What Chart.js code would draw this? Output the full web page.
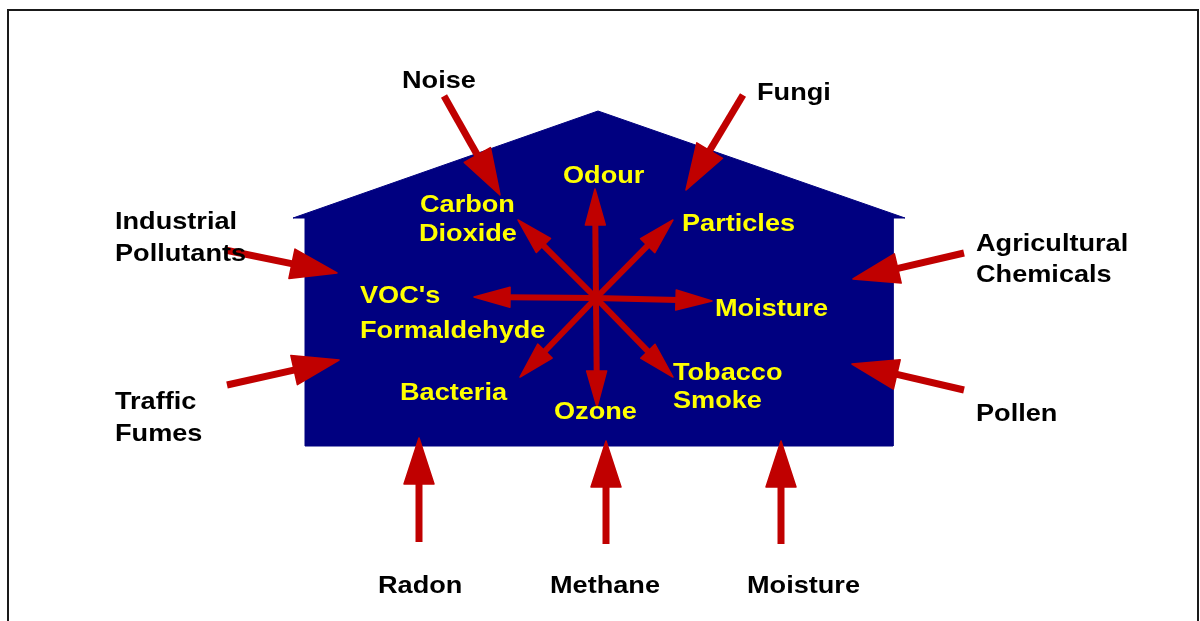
<!DOCTYPE html>
<html lang="en">
<head>
<meta charset="UTF-8">
<title>Indoor Air Pollution</title>
<style>
    body { margin: 0; background: #ffffff; }
    #wrap { width: 1200px; height: 621px; }
</style>
</head>
<body>
<div id="wrap"><canvas id="chart" width="1200" height="621"></canvas></div>
<script src="https://cdn.jsdelivr.net/npm/chart.js"></script>
<script>
// chart units are the pixels of the original picture (y grows downwards)

// house outline
const houseX = [293, 598, 905, 893, 893, 305, 305, 293];
const houseY = [218, 111, 218, 218, 446, 446, 218, 218];

// sources outside the house, one entry per text line
const outsideText = ['Noise', 'Fungi', 'Industrial', 'Pollutants', 'Traffic', 'Fumes',
    'Agricultural', 'Chemicals', 'Pollen', 'Radon', 'Methane', 'Moisture'];
const outsideTextX = [402, 757, 115, 115, 115, 115, 976, 976, 976, 378, 550, 747];
const outsideTextY = [79, 91, 220, 252, 400, 432, 242, 273, 412, 584, 584, 584];

// arrows from the sources into the house
const inFromX = [444, 743, 225, 227, 964, 964, 419, 606, 781];
const inFromY = [96, 95, 250, 385, 253, 390, 542, 544, 544];
const inToX = [500, 686, 337, 339, 853, 852, 419, 606, 781];
const inToY = [195, 190, 273, 360, 279, 364, 438, 441, 441];

// pollutants inside the house, one entry per text line
const insideText = ['Odour', 'Carbon', 'Dioxide', 'Particles', "VOC's", 'Formaldehyde',
    'Moisture', 'Tobacco', 'Smoke', 'Bacteria', 'Ozone'];
const insideTextX = [563, 420, 419, 682, 360, 360, 715, 673, 673, 400, 554];
const insideTextY = [174, 203, 232, 222, 294, 329, 307, 371, 399, 391, 410];

// star of arrows from the centre of the house
const starX = 596, starY = 298;
const starToX = [595, 518, 673, 474, 712, 520, 597, 673];
const starToY = [189, 220, 220, 297, 301, 377, 407, 377];

const RED = '#c00000';

const datasets = [];
datasets.push({
    label: 'house',
    data: houseX.map((x, i) => ({ x: x, y: houseY[i] })),
    showLine: true,
    fill: 'shape',
    backgroundColor: '#000080',
    borderColor: '#000080',
    borderWidth: 1,
    pointRadius: 0,
    tension: 0
});
inFromX.forEach((x, i) => {
    datasets.push({
        label: 'in' + i,
        data: [{ x: x, y: inFromY[i] }, { x: inToX[i], y: inToY[i] }],
        showLine: false,
        pointRadius: 0,
        arrow: { color: RED, shaft: 7, head: 46, half: 15 }
    });
});
starToX.forEach((x, i) => {
    datasets.push({
        label: 'star' + i,
        data: [{ x: starX, y: starY }, { x: x, y: starToY[i] }],
        showLine: false,
        pointRadius: 0,
        arrow: { color: RED, shaft: 6, head: 36, half: 10 }
    });
});

function drawArrow(ctx, x0, y0, x1, y1, o) {
    const dx = x1 - x0, dy = y1 - y0;
    const len = Math.hypot(dx, dy);
    const ux = dx / len, uy = dy / len;
    const bx = x1 - ux * o.head, by = y1 - uy * o.head;
    ctx.save();
    ctx.strokeStyle = o.color;
    ctx.fillStyle = o.color;
    ctx.lineCap = 'butt';
    ctx.lineWidth = o.shaft;
    ctx.beginPath();
    ctx.moveTo(x0, y0);
    ctx.lineTo(bx + ux * 2, by + uy * 2);
    ctx.stroke();
    ctx.beginPath();
    ctx.moveTo(x1, y1);
    ctx.lineTo(bx - uy * o.half, by + ux * o.half);
    ctx.lineTo(bx + uy * o.half, by - ux * o.half);
    ctx.closePath();
    ctx.lineJoin = 'round';
    ctx.lineWidth = 1.5;
    ctx.fill();
    ctx.stroke();
    ctx.restore();
}

const framePlugin = {
    id: 'frame',
    beforeDraw(chart) {
        const ctx = chart.ctx;
        ctx.save();
        ctx.strokeStyle = '#1a1a1a';
        ctx.lineWidth = 2;
        ctx.strokeRect(8, 10, 1190, 700);
        ctx.restore();
    }
};

const arrowPlugin = {
    id: 'arrows',
    afterDatasetsDraw(chart) {
        const ctx = chart.ctx;
        chart.data.datasets.forEach((ds, i) => {
            if (!ds.arrow) return;
            const pts = chart.getDatasetMeta(i).data;
            drawArrow(ctx, pts[0].x, pts[0].y, pts[1].x, pts[1].y, ds.arrow);
        });
    }
};

const labelPlugin = {
    id: 'labels',
    afterDraw(chart) {
        const ctx = chart.ctx;
        const sx = chart.scales.x, sy = chart.scales.y;
        function put(texts, xs, ys, color) {
            texts.forEach((t, i) => {
                ctx.save();
                // +2: canvas 'middle' sits a little above the cap centre
                ctx.translate(sx.getPixelForValue(xs[i]), sy.getPixelForValue(ys[i]) + 2);
                ctx.scale(1.13, 1);
                ctx.font = 'bold 24px "Liberation Sans", Arial, sans-serif';
                ctx.textAlign = 'left';
                ctx.textBaseline = 'middle';
                ctx.fillStyle = color;
                ctx.fillText(t, 0, 0);
                ctx.restore();
            });
        }
        put(outsideText, outsideTextX, outsideTextY, '#000000');
        put(insideText, insideTextX, insideTextY, '#ffff00');
    }
};

new Chart(document.getElementById('chart'), {
    type: 'scatter',
    data: { datasets: datasets },
    options: {
        responsive: false,
        animation: false,
        devicePixelRatio: 1,
        events: [],
        layout: { padding: 0 },
        plugins: { legend: { display: false }, tooltip: { enabled: false } },
        scales: {
            x: { type: 'linear', min: 0, max: 1200, display: false },
            y: { type: 'linear', min: 0, max: 621, reverse: true, display: false }
        }
    },
    plugins: [framePlugin, arrowPlugin, labelPlugin]
});
</script>
</body>
</html>
